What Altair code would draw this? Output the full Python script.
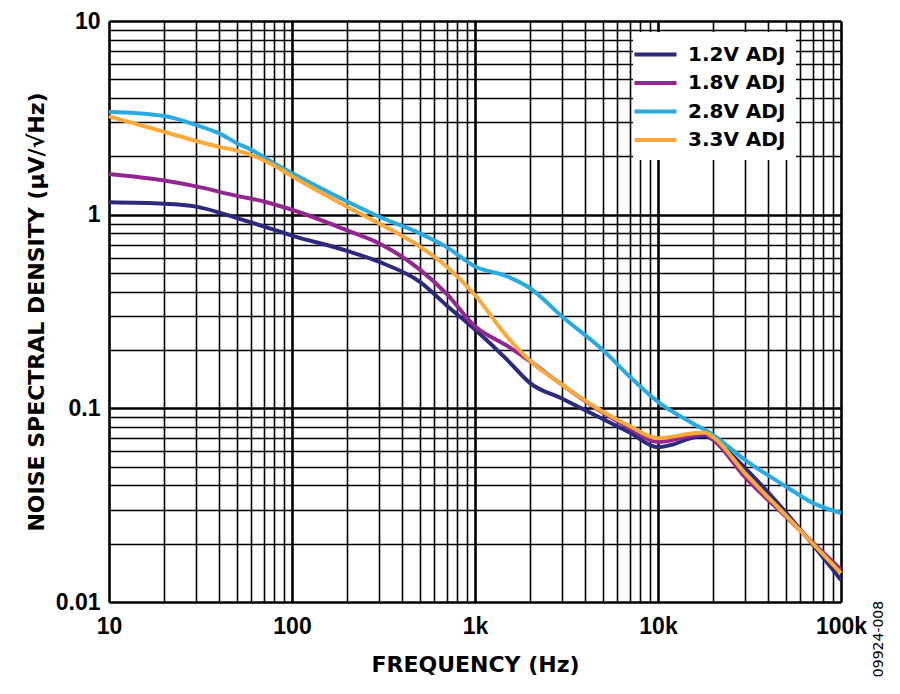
import altair as alt
import pandas as pd

# ---- data ----
series_names = ["1.2V ADJ", "1.8V ADJ", "2.8V ADJ", "3.3V ADJ"]
series_colors = ["#2B2A7C", "#93278F", "#29ABE2", "#FBAA3A"]

f_12 = [10, 20, 30, 50, 70, 100, 200, 300, 500, 700, 1000, 1500, 2000, 3000,
        5000, 7000, 10000, 12000, 15000, 18000, 20000, 30000, 50000, 100000]
v_12 = [1.16, 1.14, 1.10, 0.96, 0.87, 0.78, 0.65, 0.57, 0.45, 0.34, 0.255, 0.178,
        0.135, 0.112, 0.088, 0.075, 0.063, 0.065, 0.070, 0.072, 0.069, 0.049, 0.029, 0.013]

f_18 = [10, 20, 30, 50, 70, 100, 200, 300, 500, 700, 1000, 1500, 2000, 3000,
        5000, 7000, 10000, 15000, 18000, 20000, 30000, 50000, 100000]
v_18 = [1.62, 1.50, 1.40, 1.25, 1.17, 1.06, 0.83, 0.71, 0.52, 0.39, 0.265, 0.21,
        0.175, 0.132, 0.095, 0.079, 0.067, 0.072, 0.0735, 0.069, 0.044, 0.0276, 0.0147]

f_28 = [10, 20, 30, 40, 50, 60, 80, 100, 200, 300, 500, 700, 1000, 1500, 2000,
        3000, 5000, 7000, 10000, 15000, 20000, 30000, 50000, 70000, 100000]
v_28 = [3.4, 3.23, 2.9, 2.63, 2.34, 2.16, 1.84, 1.64, 1.17, 0.976, 0.80, 0.68,
        0.54, 0.48, 0.417, 0.297, 0.20, 0.146, 0.108, 0.085, 0.073, 0.054, 0.0395,
        0.0325, 0.0288]

f_33 = [10, 20, 30, 40, 50, 60, 70, 80, 100, 200, 300, 500, 700, 1000, 1500,
        2000, 3000, 5000, 7000, 10000, 15000, 18000, 20000, 30000, 50000, 100000]
v_33 = [3.22, 2.68, 2.40, 2.24, 2.14, 2.03, 1.91, 1.79, 1.58, 1.10, 0.90, 0.684,
        0.54, 0.385, 0.234, 0.176, 0.132, 0.096, 0.081, 0.070, 0.074, 0.075, 0.071,
        0.046, 0.028, 0.0141]

x_ticks = [m * 10 ** e for e in range(1, 5) for m in range(1, 10)] + [100000]
y_ticks = [round(m * 10.0 ** e, 4) for e in range(-2, 1) for m in range(1, 10)] + [10]

x_major = [10, 100, 1000, 10000, 100000]
x_labels = ["10", "100", "1k", "10k", "100k"]
y_major = [0.01, 0.1, 1, 10]
y_labels = ["0.01", "0.1", "1", "10"]

rows = []
for name, fs, vs in zip(series_names, [f_12, f_18, f_28, f_33], [v_12, v_18, v_28, v_33]):
    for f, v in zip(fs, vs):
        rows.append({"series": name, "freq": f, "nsd": v})
df = pd.DataFrame(rows)


def label_expr(majors, labels):
    expr = "''"
    for m, l in reversed(list(zip(majors, labels))):
        expr = f"abs(datum.value - {m}) < {m}*1e-6 ? '{l}' : ({expr})"
    return expr


def grid_width(majors):
    arr = ",".join(str(m) for m in majors)
    return {"condition": {"test": f"indexof([{arr}], datum.value) >= 0", "value": 2.6},
            "value": 1.6}


TICK_FONT = "Liberation Sans"
TITLE_FONT = "DejaVu Sans"

x_axis = alt.Axis(
    values=x_ticks, labelExpr=label_expr(x_major, x_labels), grid=True,
    gridColor="#000000", gridWidth=grid_width(x_major), gridOpacity=1,
    ticks=False, domain=False, labelFlush=False, labelOverlap=False,
    labelFont=TICK_FONT, labelFontSize=23, labelFontWeight="bold", labelColor="#000000",
    labelPadding=13, title="FREQUENCY (Hz)", titleFont=TITLE_FONT, titleFontSize=22,
    titleFontWeight="bold", titleColor="#000000", titlePadding=16,
)
y_axis = alt.Axis(
    values=y_ticks, labelExpr=label_expr(y_major, y_labels), grid=True,
    gridColor="#000000", gridWidth=grid_width(y_major), gridOpacity=1,
    ticks=False, domain=False, labelFlush=False, labelOverlap=False,
    labelFont=TICK_FONT, labelFontSize=23, labelFontWeight="bold", labelColor="#000000",
    labelPadding=9, title="NOISE SPECTRAL DENSITY (µV/√Hz)", titleFont=TITLE_FONT,
    titleFontSize=22, titleFontWeight="bold", titleColor="#000000", titlePadding=7,
)

lines = alt.Chart(df).mark_line(strokeWidth=4, interpolate="monotone").encode(
    x=alt.X("freq:Q", scale=alt.Scale(type="log", domain=[10, 100000], nice=False), axis=x_axis),
    y=alt.Y("nsd:Q", scale=alt.Scale(type="log", domain=[0.01, 10], nice=False), axis=y_axis),
    color=alt.Color(
        "series:N",
        scale=alt.Scale(domain=series_names, range=series_colors),
        legend=alt.Legend(
            title=None, orient="none", legendX=524, legendY=11, fillColor="#FFFFFF",
            padding=10, symbolType="M-2,0H2", symbolSize=441, symbolStrokeWidth=4,
            labelFont=TITLE_FONT, labelFontSize=20, labelFontWeight="bold",
            labelColor="#000000", labelOffset=20, rowPadding=5.5,
        ),
    ),
    order=alt.Order("series:N"),
)

code_text = alt.Chart(pd.DataFrame({"t": ["09924-008"]})).mark_text(
    angle=270, font=TITLE_FONT, fontSize=14, color="#000000", align="center", baseline="middle"
).encode(text="t:N", x=alt.value(770), y=alt.value(618))

chart = alt.layer(lines, code_text).properties(
    width=732, height=581,
    autosize=alt.AutoSizeParams(type="none"),
    padding={"left": 101, "top": 13, "right": 50, "bottom": 80},
).configure_view(stroke="#000000", strokeWidth=2.6).configure(background="#FFFFFF")

chart.save("out.html", embed_options={"renderer": "svg", "actions": False})
